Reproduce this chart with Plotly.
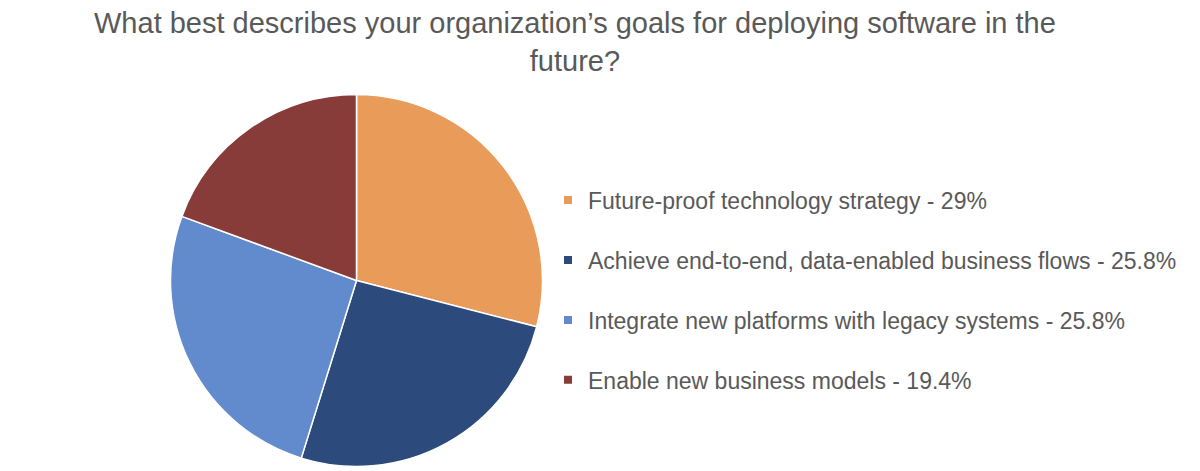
import plotly.graph_objects as go

labels = [
    "Future-proof technology strategy",
    "Achieve end-to-end, data-enabled business flows",
    "Integrate new platforms with legacy systems",
    "Enable new business models",
]
values = [29, 25.8, 25.8, 19.4]
colors = ["#E99B5A", "#2C4A7C", "#628BCD", "#873C39"]
title_text = "What best describes your organization’s goals for deploying software in the<br>future?"

W, H = 1200, 471
fig = go.Figure()
fig.add_trace(go.Pie(
    labels=labels, values=values, sort=False, direction="clockwise", rotation=0,
    marker=dict(colors=colors, line=dict(color="white", width=1.5)),
    textinfo="none", hoverinfo="label+percent", showlegend=False,
    domain=dict(x=[162.5 / W, 534.5 / W], y=[(H - 458.5) / H, (H - 86.5) / H]),
))
for lab, val, col in zip(labels, values, colors):
    fig.add_trace(go.Scatter(
        x=[None], y=[None], mode="markers", name=f"{lab} - {val:g}%",
        marker=dict(symbol="square", size=8, color=col),
        legendgroup=lab, showlegend=True,
    ))

fig.update_layout(
    width=W, height=H,
    margin=dict(l=0, r=0, t=0, b=0),
    paper_bgcolor="white", plot_bgcolor="white",
    xaxis=dict(visible=False), yaxis=dict(visible=False),
    annotations=[dict(text=title_text, x=0.4725, xref="paper", xanchor="center",
                      y=1, yref="paper", yanchor="top", yshift=3, showarrow=False,
                      font=dict(family="Liberation Sans, Arial", size=29, color="#595959"))],
    legend=dict(x=0.45, xanchor="left", y=0.401, yanchor="middle",
                font=dict(family="Liberation Sans, Arial", size=23, color="#595959"),
                tracegroupgap=27, itemclick=False),
)
fig.write_html("out.html")
